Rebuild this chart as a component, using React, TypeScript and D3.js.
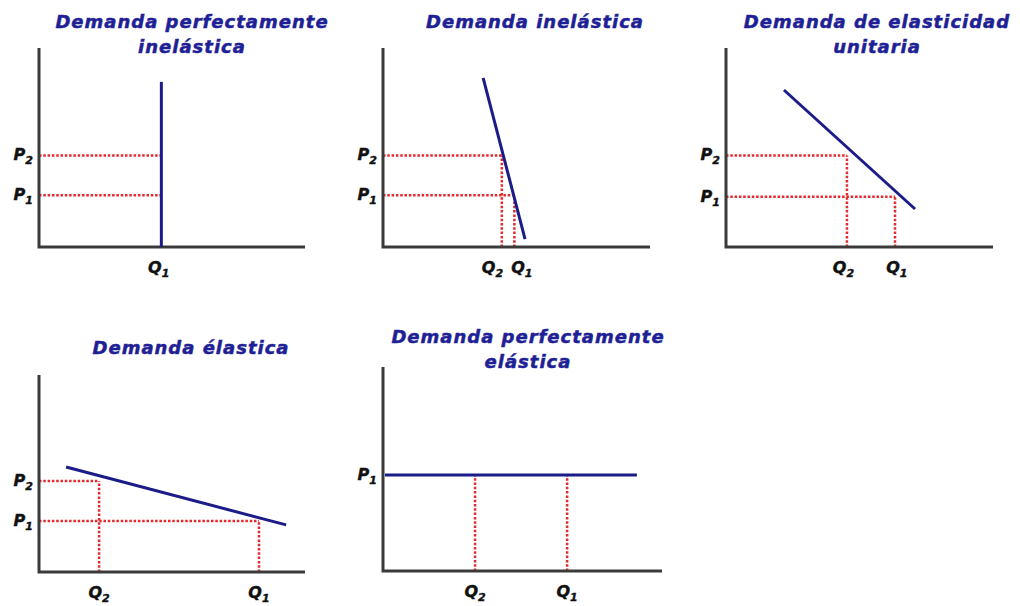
import { useEffect, useRef } from "react";
import * as d3 from "d3";

// titles of the five panels (one entry per text line)
const panelTitles = [
  ["Demanda perfectamente", "inelástica"],
  ["Demanda inelástica"],
  ["Demanda de elasticidad", "unitaria"],
  ["Demanda élastica"],
  ["Demanda perfectamente", "elástica"],
];

// demand curve end points, [quantity, price] on a 0-100 scale
const demandLines = [
  [[46, 0], [46, 83]],
  [[37.5, 85], [53.2, 4]],
  [[21.7, 78.9], [70.8, 19.1]],
  [[10.2, 53.3], [92.9, 23.9]],
  [[0.7, 47], [91, 47]],
];

// dotted guides: horizontal (price -> up to quantity), vertical (quantity -> up to price)
const priceGuides = [
  [{ p: 46, q: 46 }, { p: 26, q: 46 }],
  [{ p: 46, q: 44.5 }, { p: 26, q: 49.2 }],
  [{ p: 46, q: 45.3 }, { p: 25.3, q: 63.3 }],
  [{ p: 46.2, q: 22.6 }, { p: 25.9, q: 82.7 }],
  [],
];
const quantityGuides = [
  [],
  [{ q: 44.5, p: 46 }, { q: 49.2, p: 26 }],
  [{ q: 45.3, p: 46 }, { q: 63.3, p: 25.3 }],
  [{ q: 22.6, p: 46.2 }, { q: 82.7, p: 25.9 }],
  [{ q: 33, p: 47 }, { q: 66, p: 47 }],
];

// axis labels
const priceLabels = [
  [{ sub: "2", value: 46 }, { sub: "1", value: 26 }],
  [{ sub: "2", value: 46 }, { sub: "1", value: 26 }],
  [{ sub: "2", value: 46 }, { sub: "1", value: 25.3 }],
  [{ sub: "2", value: 46.2 }, { sub: "1", value: 25.9 }],
  [{ sub: "1", value: 47 }],
];
const quantityLabels = [
  [{ sub: "1", value: 45 }],
  [{ sub: "2", value: 41 }, { sub: "1", value: 52 }],
  [{ sub: "2", value: 44 }, { sub: "1", value: 64 }],
  [{ sub: "2", value: 22.6 }, { sub: "1", value: 82.7 }],
  [{ sub: "2", value: 33 }, { sub: "1", value: 66 }],
];

// where each panel sits on the page
const panelBoxes = [
  { x0: 39, x1: 305, y0: 247, y1: 48, tx: 192, ty: 28 },
  { x0: 383, x1: 650, y0: 247, y1: 48, tx: 535, ty: 28 },
  { x0: 726, x1: 993, y0: 247, y1: 48, tx: 877, ty: 28 },
  { x0: 39, x1: 305, y0: 572, y1: 375, tx: 191, ty: 354 },
  { x0: 383, x1: 662, y0: 571, y1: 367, tx: 528, ty: 343 },
];

const FONT = "'DejaVu Sans', Verdana, sans-serif";
const RED = "#e42a2e";

const App = () => {
  const svgRef = useRef(null);

  useEffect(() => {
    const svg = d3.select(svgRef.current);
    svg.selectAll("*").remove();

    panelBoxes.forEach((box, i) => {
      const x = d3.scaleLinear().domain([0, 100]).range([box.x0, box.x1]);
      const y = d3.scaleLinear().domain([0, 100]).range([box.y0, box.y1]);
      const g = svg.append("g");

      // title
      const title = g.append("text")
        .attr("x", box.tx)
        .attr("y", box.ty)
        .attr("text-anchor", "middle")
        .style("font-family", FONT)
        .style("font-size", "18px")
        .style("font-weight", "bold")
        .style("font-style", "italic")
        .style("letter-spacing", "1px")
        .style("fill", "#1f1f96")
        .style("stroke", "#1f1f96")
        .style("stroke-width", 0.5);
      panelTitles[i].forEach((line, k) => {
        title.append("tspan")
          .attr("x", box.tx)
          .attr("dy", k === 0 ? 0 : 25)
          .text(line);
      });

      // dotted guides
      priceGuides[i].forEach((d) => {
        g.append("line")
          .attr("x1", x(0)).attr("x2", x(d.q))
          .attr("y1", y(d.p)).attr("y2", y(d.p))
          .attr("stroke", RED)
          .attr("stroke-width", 2.5)
          .attr("stroke-dasharray", "2.5,1.8");
      });
      quantityGuides[i].forEach((d) => {
        g.append("line")
          .attr("x1", x(d.q)).attr("x2", x(d.q))
          .attr("y1", y(0)).attr("y2", y(d.p))
          .attr("stroke", RED)
          .attr("stroke-width", 2.5)
          .attr("stroke-dasharray", "2.5,1.8");
      });

      // axes
      g.append("path")
        .attr("d", d3.line()([[x(0), y(100)], [x(0), y(0)], [x(100), y(0)]]))
        .attr("fill", "none")
        .attr("stroke", "#3a3a3a")
        .attr("stroke-width", 3);

      // demand curve
      g.append("path")
        .attr("d", d3.line().x((d) => x(d[0])).y((d) => y(d[1]))(demandLines[i]))
        .attr("fill", "none")
        .attr("stroke", "#1c1c88")
        .attr("stroke-width", 3);

      // price labels
      priceLabels[i].forEach((d) => {
        const t = g.append("text")
          .attr("x", x(0) - 6)
          .attr("y", y(d.value) + 5)
          .attr("text-anchor", "end")
          .style("font-family", FONT)
          .style("font-size", "16px")
          .style("font-weight", "bold")
          .style("font-style", "italic")
          .style("fill", "#111")
          .style("stroke", "#111")
          .style("stroke-width", 0.4);
        t.append("tspan").text("P");
        t.append("tspan").attr("dy", 4).style("font-size", "11px").text(d.sub);
      });

      // quantity labels
      quantityLabels[i].forEach((d) => {
        const t = g.append("text")
          .attr("x", x(d.value))
          .attr("y", y(0) + 26)
          .attr("text-anchor", "middle")
          .style("font-family", FONT)
          .style("font-size", "16px")
          .style("font-weight", "bold")
          .style("font-style", "italic")
          .style("fill", "#111")
          .style("stroke", "#111")
          .style("stroke-width", 0.4);
        t.append("tspan").text("Q");
        t.append("tspan").attr("dy", 4).style("font-size", "11px").text(d.sub);
      });
    });
  }, []);

  return (
    <svg
      ref={svgRef}
      width={1020}
      height={606}
      style={{ position: "absolute", left: 0, top: 0, background: "#fff" }}
    ></svg>
  );
};

export default App;
